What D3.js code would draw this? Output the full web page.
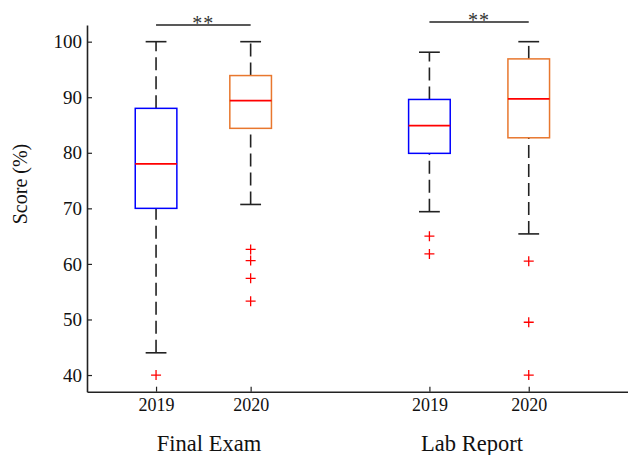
<!DOCTYPE html>
<html><head><meta charset="utf-8">
<script src="https://cdn.jsdelivr.net/npm/d3@7"></script>
<style>
body{margin:0;background:#fff;}
svg{display:block;}
svg text{font-family:"Liberation Serif","Times New Roman",serif;}
</style></head>
<body><svg id="c" width="628" height="455"></svg>
<script>
// ---- data ----
const groups = ["Final Exam", "Final Exam", "Lab Report", "Lab Report"];
const years = ["2019", "2020", "2019", "2020"];
const positions = [1, 2, 3.89, 4.94];
const colors = ["#0000FF", "#E8772E", "#0000FF", "#E8772E"];
const whiskerLow = [44, 70.7, 69.4, 65.4];
const q1 = [70, 84.4, 79.9, 82.7];
const medians = [78, 89.4, 84.9, 89.7];
const q3 = [88, 93.9, 89.6, 96.9];
const whiskerHigh = [100, 100, 98.1, 100];
const outliers = [[40], [62.6, 60.6, 57.4, 53.3], [65.0, 61.8], [60.5, 49.5, 40]];
const yTicks = [40, 50, 60, 70, 80, 90, 100];
const groupLabels = ["Final Exam", "Lab Report"];
const groupLabelPos = [1.56, 4.34];
const sigPairs = [[1, 2], [3.89, 4.94]];
const sigText = ["**", "**"];

// ---- layout ----
const svg = d3.select("#c");
const x = d3.scaleLinear().domain([0.27, 6]).range([87, 629]);
const y = d3.scaleLinear().domain([37, 103]).range([391.7, 25]);
const boxW = 0.44, capW = 0.22;
const sigY = [25, 22];

// axes
const yAxis = d3.axisLeft(y).tickValues(yTicks).tickSizeInner(-5).tickSizeOuter(0).tickPadding(5);
const gy = svg.append("g").attr("transform", "translate(87,0)").call(yAxis).attr("font-family", null);
gy.select(".domain").attr("stroke", "#222").attr("stroke-width", 1.6);
gy.selectAll(".tick line").attr("stroke", "#222").attr("stroke-width", 1.2);
gy.selectAll("text").attr("font-size", 19).attr("fill", "#111");

const xAxis = d3.axisBottom(x).tickValues(positions).tickFormat((d, i) => years[i])
  .tickSizeInner(-5).tickSizeOuter(0).tickPadding(7);
const gx = svg.append("g").attr("transform", "translate(0,391.7)").call(xAxis).attr("font-family", null);
gx.select(".domain").attr("stroke", "#222").attr("stroke-width", 1.6);
gx.selectAll(".tick line").attr("stroke", "#222").attr("stroke-width", 1.2);
gx.selectAll("text").attr("font-size", 18).attr("fill", "#111");

// axis labels
svg.append("text").attr("transform", "translate(27,184) rotate(-90)")
  .attr("text-anchor", "middle").attr("font-size", 20).attr("fill", "#111").text("Score (%)");
svg.selectAll(".glabel").data(groupLabels).enter().append("text")
  .attr("x", (d, i) => x(groupLabelPos[i])).attr("y", 451)
  .attr("text-anchor", "middle").attr("font-size", 22.5).attr("fill", "#111").text(d => d);

// boxes
const g = svg.append("g");
positions.forEach((p, i) => {
  g.append("line").attr("x1", x(p)).attr("x2", x(p)).attr("y1", y(whiskerLow[i])).attr("y2", y(q1[i]))
    .attr("stroke", "#222").attr("stroke-width", 1.6).attr("stroke-dasharray", "13,6");
  g.append("line").attr("x1", x(p)).attr("x2", x(p)).attr("y1", y(q3[i])).attr("y2", y(whiskerHigh[i]))
    .attr("stroke", "#222").attr("stroke-width", 1.6).attr("stroke-dasharray", "13,6");
  [whiskerLow[i], whiskerHigh[i]].forEach(v => {
    g.append("line").attr("x1", x(p - capW / 2)).attr("x2", x(p + capW / 2)).attr("y1", y(v)).attr("y2", y(v))
      .attr("stroke", "#222").attr("stroke-width", 1.6);
  });
  g.append("rect").attr("x", x(p - boxW / 2)).attr("width", x(p + boxW / 2) - x(p - boxW / 2))
    .attr("y", y(q3[i])).attr("height", y(q1[i]) - y(q3[i]))
    .attr("fill", "none").attr("stroke", colors[i]).attr("stroke-width", 1.5);
  g.append("line").attr("x1", x(p - boxW / 2)).attr("x2", x(p + boxW / 2)).attr("y1", y(medians[i])).attr("y2", y(medians[i]))
    .attr("stroke", "#FF0000").attr("stroke-width", 1.8);
  outliers[i].forEach(v => {
    g.append("path").attr("d", `M${x(p) - 5},${y(v)}h10M${x(p)},${y(v) - 5}v10`)
      .attr("stroke", "#FF0000").attr("stroke-width", 1.3).attr("fill", "none");
  });
});

// significance markers
sigPairs.forEach((pair, k) => {
  const yy = sigY[k];
  svg.append("line").attr("x1", x(pair[0])).attr("x2", x(pair[1])).attr("y1", yy).attr("y2", yy)
    .attr("stroke", "#222").attr("stroke-width", 1.6);
  svg.append("text").attr("x", (x(pair[0]) + x(pair[1])) / 2).attr("y", yy + 5)
    .attr("text-anchor", "middle").attr("font-size", 20).attr("fill", "#333").attr("letter-spacing", 1).text(sigText[k]);
});
</script></body></html>
